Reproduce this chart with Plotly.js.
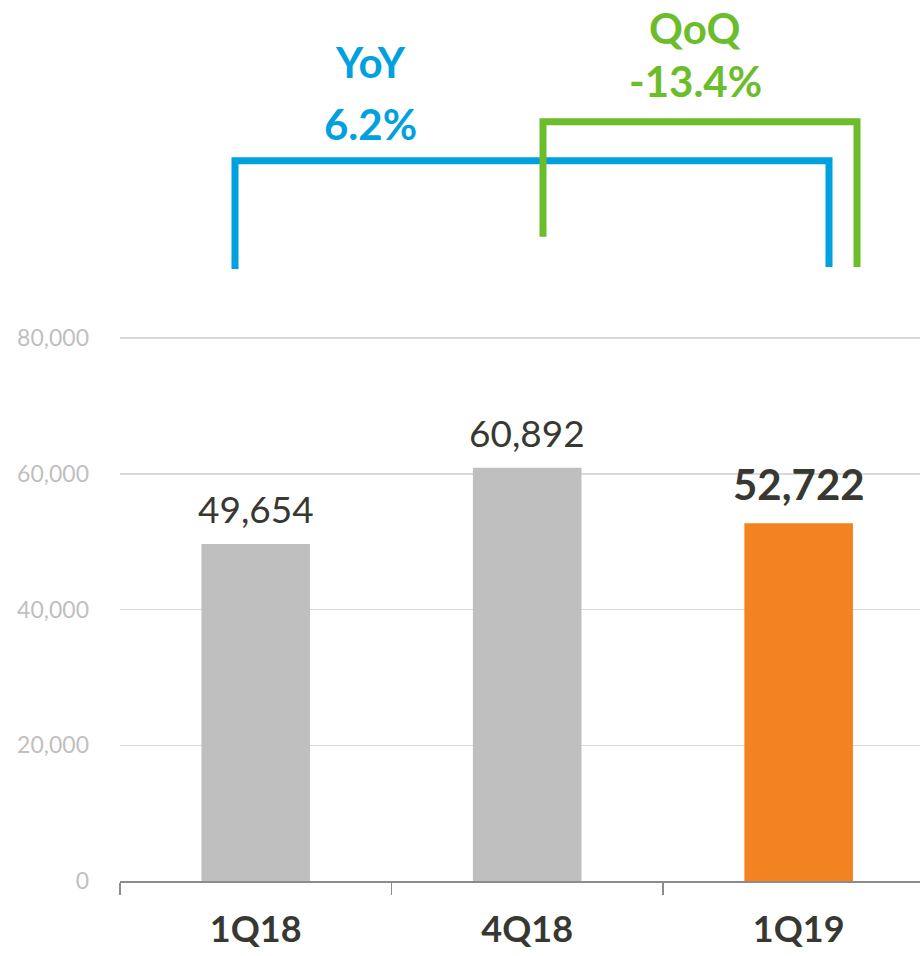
<!DOCTYPE html>
<html>
<head>
<meta charset="utf-8">
<script src="https://cdn.plot.ly/plotly-3.0.1.min.js"></script>
<style>html,body{margin:0;padding:0;background:#fff;}#chart{width:920px;height:956px;}</style>
</head>
<body>
<div id="chart"></div>
<script>
// Data
var categories = ["1Q18", "4Q18", "1Q19"];
var values = [49654, 60892, 52722];
var barColors = ["#bfbfbf", "#bfbfbf", "#f38320"];
var highlight = [false, false, true];
var yTickVals = [0, 20000, 40000, 60000, 80000];
var yoyLabel = ["YoY", "6.2%"];
var qoqLabel = ["QoQ", "-13.4%"];

var FONT = "Lato, 'Open Sans', sans-serif";
var DARK = "#383832";
var BLUE = "#00a1de";
var GREEN = "#6cbd2b";

var trace = {
  type: "bar",
  x: categories,
  y: values,
  marker: { color: barColors, line: { width: 0 } },
  hoverinfo: "skip"
};

var annotations = categories.map(function (c, i) {
  var txt = values[i].toLocaleString("en-US");
  return {
    x: c, y: values[i], xref: "x", yref: "y",
    text: highlight[i] ? "<b>" + txt + "</b>" : txt,
    showarrow: false, yanchor: "bottom", yshift: highlight[i] ? 12 : 11,
    font: { family: FONT, size: highlight[i] ? 42 : 37, color: DARK }
  };
});

function topText(t, x, y, color) {
  return { x: x, y: y, xref: "paper", yref: "paper", text: "<b>" + t + "</b>",
    showarrow: false, xanchor: "center", yanchor: "middle",
    font: { family: FONT, size: 42, color: color } };
}
annotations.push(topText(yoyLabel[0], 0.3125, 1.5064, BLUE));
annotations.push(topText(yoyLabel[1], 0.3125, 1.3923, BLUE));
annotations.push(topText(qoqLabel[0], 0.71875, 1.5672, GREEN));
annotations.push(topText(qoqLabel[1], 0.71875, 1.4715, GREEN));

var shapes = [
  { type: "path", xref: "paper", yref: "paper",
    path: "M 0.14375 1.1252 L 0.14375 1.3241 L 0.88625 1.3241 L 0.88625 1.1289",
    line: { color: BLUE, width: 7 }, fillcolor: "rgba(0,0,0,0)" },
  { type: "path", xref: "paper", yref: "paper",
    path: "M 0.52875 1.1842 L 0.52875 1.3959 L 0.92125 1.3959 L 0.92125 1.1289",
    line: { color: GREEN, width: 7 }, fillcolor: "rgba(0,0,0,0)" }
];

var layout = {
  width: 920, height: 956,
  margin: { l: 120, r: 0, t: 337, b: 75 },
  paper_bgcolor: "#ffffff", plot_bgcolor: "#ffffff",
  showlegend: false,
  bargap: 0.6,
  xaxis: {
    type: "category",
    range: [-0.5, 2.447],
    tickson: "boundaries",
    ticks: "outside", ticklen: 12, tickwidth: 1.5, tickcolor: "#8c8c8c",
    showline: true, linecolor: "#8c8c8c", linewidth: 1.5,
    showgrid: false, zeroline: false,
    tickfont: { family: FONT, size: 36, color: DARK, weight: "bold" },
    ticklabelstandoff: 16,
    fixedrange: true
  },
  yaxis: {
    range: [0, 80150],
    tickvals: yTickVals,
    tickformat: ",d",
    showgrid: true, gridcolor: "#d9d9d9", gridwidth: 1.5,
    zeroline: false, showline: false, ticks: "",
    tickfont: { family: FONT, size: 23, color: "#bfbfbf" },
    ticklabelstandoff: 30,
    fixedrange: true
  },
  annotations: annotations,
  shapes: shapes
};

Plotly.newPlot("chart", [trace], layout, { displayModeBar: false, staticPlot: true });
</script>
</body>
</html>
